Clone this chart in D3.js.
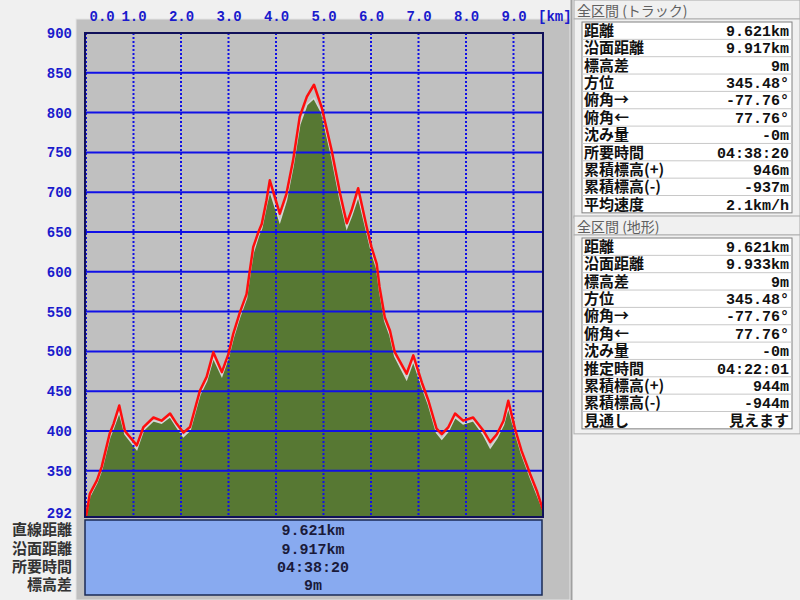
<!DOCTYPE html>
<html><head><meta charset="utf-8">
<script src="https://cdn.jsdelivr.net/npm/d3@7"></script>
<style>
body{margin:0;background:#f0f0f0;}
svg{display:block;}
</style>
</head><body>
<svg id="c" width="800" height="600"></svg>
<script>
// ---- data ----
const distKm = [0.00,0.08,0.23,0.33,0.50,0.58,0.70,0.82,1.07,1.21,1.42,1.59,1.77,1.91,2.05,2.19,2.40,2.54,2.68,2.86,3.00,3.10,3.24,3.38,3.45,3.52,3.63,3.70,3.80,3.87,4.08,4.22,4.36,4.50,4.65,4.80,4.96,5.17,5.35,5.49,5.59,5.73,5.91,6.01,6.12,6.18,6.29,6.40,6.50,6.75,6.89,7.07,7.21,7.38,7.49,7.63,7.77,7.94,8.15,8.36,8.51,8.65,8.79,8.89,9.03,9.17,9.35,9.49,9.62];
const trackElev = [292,321,338,355,397,409,432,400,382,405,417,413,422,409,398,405,451,468,499,474,497,522,549,572,602,631,650,660,690,715,673,698,740,795,820,835,807,753,698,661,677,705,656,631,610,581,543,526,499,472,495,461,438,403,396,405,422,413,417,401,386,396,413,438,403,375,346,325,301];
const terrainElev = [292,318,335,351,392,404,424,396,377,401,413,410,418,405,393,401,446,463,492,469,493,517,544,567,597,624,645,655,684,702,663,690,733,785,810,818,800,745,690,655,670,695,650,625,604,576,538,520,494,465,488,456,433,398,390,400,417,409,413,396,379,391,408,430,399,371,342,321,301];
const totalKm = 9.621;
const xTicks = [0,1,2,3,4,5,6,7,8,9];
const xUnit = "[km]";
const yTicks = [292,350,400,450,500,550,600,650,700,750,800,850,900];
const yGrid = [350,400,450,500,550,600,650,700,750,800,850];
const bottomLabels = ["直線距離","沿面距離","所要時間","標高差"];
const bottomValues = ["9.621km","9.917km","04:38:20","9m"];
const panelTitles = ["全区間 (トラック)","全区間 (地形)"];
const trackLabels = ["距離","沿面距離","標高差","方位","俯角→","俯角←","沈み量","所要時間","累積標高(+)","累積標高(-)","平均速度"];
const trackValues = ["9.621km","9.917km","9m","345.48°","-77.76°","77.76°","-0m","04:38:20","946m","-937m","2.1km/h"];
const terrainLabels = ["距離","沿面距離","標高差","方位","俯角→","俯角←","沈み量","推定時間","累積標高(+)","累積標高(-)","見通し"];
const terrainValues = ["9.621km","9.933km","9m","345.48°","-77.76°","77.76°","-0m","04:22:01","944m","-944m","見えます"];

// ---- drawing ----
const JP = "'Noto Sans CJK JP','Noto Sans',sans-serif";
const NUM = "'Liberation Mono','DejaVu Sans Mono','Noto Sans CJK JP',monospace";
const svg = d3.select("#c");
const x = d3.scaleLinear().domain([0, totalKm]).range([86, 543]);
const y = d3.scaleLinear().domain([292, 900]).range([517, 33]);
const pts = distKm.map((d,i)=>({d, t:trackElev[i], g:terrainElev[i]}));

// gray chart panel
svg.append("rect").attr("x",76).attr("y",19).attr("width",494).attr("height",581)
  .attr("fill","#c0c0c0").attr("stroke","#e4e4e4").attr("stroke-width",1);
svg.append("line").attr("x1",571.5).attr("x2",571.5).attr("y1",0).attr("y2",600)
  .attr("stroke","#a0a0a0").attr("stroke-width",2);

// plot background
svg.append("rect").attr("x",85).attr("y",32).attr("width",459).attr("height",486).attr("fill","#c0c0c0");

svg.append("clipPath").attr("id","pc").append("rect").attr("x",85).attr("y",32).attr("width",459).attr("height",486);
const plot = svg.append("g").attr("clip-path","url(#pc)");

// terrain area
plot.append("path").datum(pts)
  .attr("d", d3.area().x(p=>x(p.d)).y0(y(292)).y1(p=>y(p.g)))
  .attr("fill","#577833");
plot.append("path").datum(pts)
  .attr("d", d3.line().x(p=>x(p.d)).y(p=>y(p.g)))
  .attr("fill","none").attr("stroke","#d6d6d6").attr("stroke-width",1.5);

// grid lines
plot.selectAll(".hg").data(yGrid).join("line")
  .attr("x1",85).attr("x2",544).attr("y1",v=>y(v)).attr("y2",v=>y(v))
  .attr("stroke","#1010e6").attr("stroke-width",2);
plot.selectAll(".vg").data(xTicks).join("line")
  .attr("x1",v=>x(v)).attr("x2",v=>x(v)).attr("y1",33).attr("y2",517)
  .attr("stroke","#1010e6").attr("stroke-width",2).attr("stroke-dasharray","2,2");

// track line
plot.append("path").datum(pts)
  .attr("d", d3.line().x(p=>x(p.d)).y(p=>y(p.t)))
  .attr("fill","none").attr("stroke","#ff0d0d").attr("stroke-width",2.5).attr("stroke-linejoin","round");

// frame
svg.append("rect").attr("x",85).attr("y",33).attr("width",458).attr("height",484)
  .attr("fill","none").attr("stroke","#10105a").attr("stroke-width",2);

// axes
const xAx = svg.append("g").attr("transform","translate(0,21)")
  .call(d3.axisTop(x).tickValues(xTicks).tickSize(0).tickPadding(0).tickFormat(d3.format(".1f")));
xAx.select(".domain").remove();
xAx.selectAll("text").attr("font-family",NUM).attr("font-weight","bold").attr("font-size",14).attr("fill","#1a1acc");
xAx.selectAll(".tick").filter(d=>d===0).select("text").attr("text-anchor","start").attr("x",3);
svg.append("text").attr("x",538).attr("y",21).text(xUnit)
  .attr("font-family",NUM).attr("font-weight","bold").attr("font-size",14).attr("fill","#1a1acc");

const yAx = svg.append("g").attr("transform","translate(72,0)")
  .call(d3.axisLeft(y).tickValues(yTicks).tickSize(0).tickPadding(0));
yAx.select(".domain").remove();
yAx.selectAll("text").attr("font-family",NUM).attr("font-weight","bold").attr("font-size",14).attr("fill","#1a1acc");
yAx.selectAll(".tick").filter(d=>d===292).select("text").attr("dy","0em");

// bottom info box
svg.append("rect").attr("x",85).attr("y",520).attr("width",457).attr("height",75)
  .attr("fill","#88aaf0").attr("stroke","#1a2a55").attr("stroke-width",1.5);
const rowY = [530,549,567,585];
svg.selectAll(".bl").data(bottomLabels).join("text")
  .attr("x",72).attr("y",(d,i)=>rowY[i]).attr("dy","0.36em").attr("text-anchor","end")
  .attr("font-family",JP).attr("font-size",15).attr("font-weight","bold").attr("fill","#333")
  .text(d=>d);
svg.selectAll(".bv").data(bottomValues).join("text")
  .attr("x",313).attr("y",(d,i)=>rowY[i]).attr("dy","0.35em").attr("text-anchor","middle")
  .attr("font-family",NUM).attr("font-size",15).attr("font-weight","bold").attr("fill","#1a1a3a")
  .text(d=>d);

// right panel tables
function panel(title, labels, values, top){
  svg.append("rect").attr("x",574).attr("y",top).attr("width",226).attr("height",19)
    .attr("fill","#f0f0f0").attr("stroke","#a8a8a8");
  svg.append("text").attr("x",577).attr("y",top+10.5).attr("dy","0.36em").text(title)
    .attr("font-family",JP).attr("font-size",14).attr("fill","#606060");
  const t0 = top+22, rh = 17.35;
  svg.append("rect").attr("x",574).attr("y",top+19).attr("width",226).attr("height",labels.length*rh+8)
    .attr("fill","#f0f0f0").attr("stroke","#b0b0b0");
  svg.append("rect").attr("x",582).attr("y",t0).attr("width",210).attr("height",labels.length*rh)
    .attr("fill","#ffffff").attr("stroke","#808080");
  const g = svg.append("g");
  g.selectAll("line").data(labels.slice(1)).join("line")
    .attr("x1",582).attr("x2",792).attr("y1",(d,i)=>t0+(i+1)*rh).attr("y2",(d,i)=>t0+(i+1)*rh)
    .attr("stroke","#c8c8c8");
  g.selectAll(".l").data(labels).join("text")
    .attr("x",584).attr("y",(d,i)=>t0+i*rh+rh/2).attr("dy","0.36em")
    .attr("font-family",JP).attr("font-size",15).attr("font-weight","bold").attr("fill","#111")
    .text(d=>d);
  g.selectAll(".v").data(values).join("text")
    .attr("x",789).attr("y",(d,i)=>t0+i*rh+rh/2).attr("dy","0.36em").attr("text-anchor","end")
    .attr("font-family",NUM).attr("font-size",15).attr("font-weight","bold").attr("fill","#111")
    .text(d=>d);
}
panel(panelTitles[0], trackLabels, trackValues, 0);
panel(panelTitles[1], terrainLabels, terrainValues, 216);
</script>
</body></html>
